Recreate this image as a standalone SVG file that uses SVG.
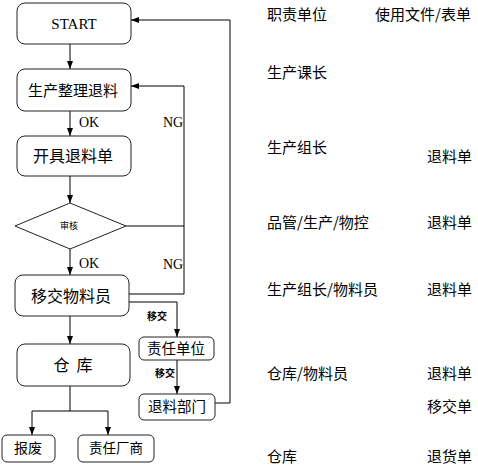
<svg xmlns="http://www.w3.org/2000/svg" width="478" height="468" viewBox="0 0 478 468">
<defs>
<marker id="ah" markerWidth="8" markerHeight="8" refX="8" refY="4" orient="auto" markerUnits="userSpaceOnUse"><path d="M0,1 L8,4 L0,7 Z" fill="#000"/></marker>
<style>
.box{fill:#fff;stroke:#222;stroke-width:1}
.ln{fill:none;stroke:#000;stroke-width:1}
.cj{font-family:"Noto Sans CJK SC","Noto Sans",sans-serif;fill:#000}
.sf{font-family:"Liberation Serif",serif;fill:#000}
</style>
</defs>
<rect width="478" height="468" fill="#fff"/>
<g id="connectors">
<line class="ln" x1="70" y1="44" x2="70" y2="69" marker-end="url(#ah)"/>
<line class="ln" x1="70" y1="111" x2="70" y2="136" marker-end="url(#ah)"/>
<line class="ln" x1="70" y1="176" x2="70" y2="203" marker-end="url(#ah)"/>
<line class="ln" x1="70" y1="249" x2="70" y2="275" marker-end="url(#ah)"/>
<line class="ln" x1="70" y1="316" x2="70" y2="344" marker-end="url(#ah)"/>
<polyline class="ln" points="126,226 184,226"/>
<polyline class="ln" points="129,294 184,294 184,86 131,86" marker-end="url(#ah)"/>
<polyline class="ln" points="129,302 177,302 177,337" marker-end="url(#ah)"/>
<line class="ln" x1="177" y1="360" x2="177" y2="394" marker-end="url(#ah)"/>
<polyline class="ln" points="215,403 230,403 230,20 131,20" marker-end="url(#ah)"/>
<polyline class="ln" points="70,386 70,411"/>
<polyline class="ln" points="32,411 108,411"/>
<line class="ln" x1="32" y1="411" x2="32" y2="435" marker-end="url(#ah)"/>
<line class="ln" x1="108" y1="411" x2="108" y2="435" marker-end="url(#ah)"/>
<text class="sf" x="79" y="127" font-size="14">OK</text>
<text class="sf" x="79" y="268" font-size="14">OK</text>
<text class="sf" x="163" y="127" font-size="14">NG</text>
<text class="sf" x="163" y="269" font-size="14">NG</text>
<text class="cj" x="147" y="320" font-size="10" font-weight="bold">移交</text>
<text class="cj" x="155" y="377" font-size="10" font-weight="bold">移交</text>
</g>
<g id="start">
<rect class="box" x="17" y="3" width="114" height="41" rx="8"/>
<text class="sf" x="74" y="29" font-size="15" text-anchor="middle">START</text>
</g>
<g id="n1">
<rect class="box" x="17" y="69" width="114" height="42" rx="8"/>
<text class="cj" x="73" y="96" font-size="15" text-anchor="middle">生产整理退料</text>
</g>
<g id="n2">
<rect class="box" x="17" y="136" width="114" height="40" rx="8"/>
<text class="cj" x="73" y="162" font-size="16" text-anchor="middle">开具退料单</text>
</g>
<g id="n3">
<polygon class="box" points="70,203 126,226 70,249 15,226"/>
<text class="cj" x="69" y="229" font-size="9" text-anchor="middle">审核</text>
</g>
<g id="n4">
<rect class="box" x="15" y="275" width="114" height="41" rx="8"/>
<text class="cj" x="71" y="302" font-size="16" text-anchor="middle">移交物料员</text>
</g>
<g id="n5">
<rect class="box" x="17" y="344" width="113" height="42" rx="8"/>
<text class="cj" x="73" y="371" font-size="16" text-anchor="middle" xml:space="preserve" style="white-space:pre">仓  库</text>
</g>
<g id="n6">
<rect class="box" x="139" y="337" width="75" height="23" rx="5"/>
<text class="cj" x="176" y="354" font-size="14.5" text-anchor="middle">责任单位</text>
</g>
<g id="n7">
<rect class="box" x="139" y="394" width="76" height="26" rx="5"/>
<text class="cj" x="177" y="412" font-size="14.5" text-anchor="middle">退料部门</text>
</g>
<g id="n8">
<rect class="box" x="2" y="435" width="53" height="27" rx="5"/>
<text class="cj" x="28" y="453" font-size="14" text-anchor="middle">报废</text>
</g>
<g id="n9">
<rect class="box" x="78" y="435" width="76" height="27" rx="5"/>
<text class="cj" x="116" y="453" font-size="13.5" text-anchor="middle">责任厂商</text>
</g>
<g id="table" class="cj" font-size="15">
<text x="267" y="20">职责单位</text>
<text x="375" y="20">使用文件/表单</text>
<text x="267" y="78">生产课长</text>
<text x="267" y="153">生产组长</text>
<text x="427" y="162">退料单</text>
<text x="267" y="228">品管/生产/物控</text>
<text x="427" y="228">退料单</text>
<text x="267" y="295">生产组长/物料员</text>
<text x="427" y="295">退料单</text>
<text x="267" y="379">仓库/物料员</text>
<text x="427" y="379">退料单</text>
<text x="427" y="412">移交单</text>
<text x="267" y="462">仓库</text>
<text x="427" y="462">退货单</text>
</g>
</svg>
